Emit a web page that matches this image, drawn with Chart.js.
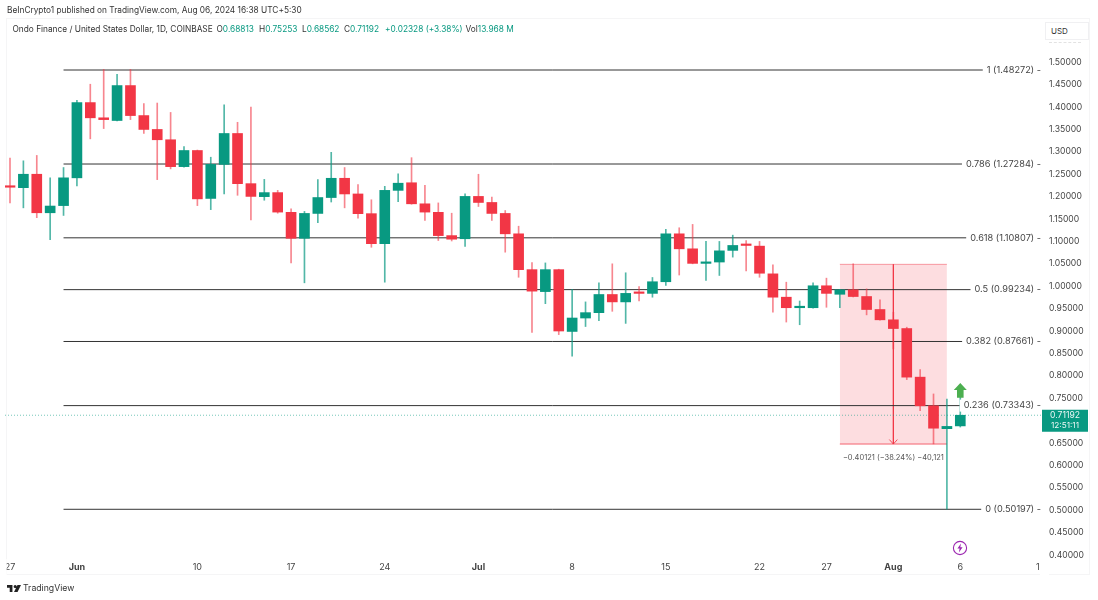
<!DOCTYPE html>
<html><head><meta charset="utf-8">
<script src="https://cdn.jsdelivr.net/npm/chart.js@4"></script>
<style>
html,body{margin:0;padding:0;background:#fff;width:1098px;height:600px;overflow:hidden;font-family:Inter,"Noto Sans",sans-serif;color:#333}
#wrap{position:absolute;left:0;top:0;width:1098px;height:600px}
canvas{position:absolute;left:0;top:0}
.t{position:absolute;white-space:nowrap;line-height:1}
#frame{position:absolute;left:6px;top:18px;width:1084px;height:557px;border:1px solid #f5f5f6;box-sizing:border-box}
#hdr1{left:7px;top:6px;font-size:8.3px;color:#333}
.h2{top:25px;font-size:8.3px;color:#333}
.h2 b{font-weight:400;color:#089981}
#usd{position:absolute;left:1045px;top:22px;width:44px;height:18px;border:1px solid #f0f0f2;box-sizing:border-box;font-size:8px;line-height:16px;padding-left:5px;color:#333;background:#fff}
#dash{position:absolute;left:1049px;top:42px;width:32px;border-top:1px dashed #e2e2e2}
#foot{left:23px;top:584px;font-size:8.7px;color:#333}
</style></head><body>
<div id="wrap">
<div id="frame"></div>
<canvas id="c" width="1098" height="600"></canvas>
<div class="t" id="hdr1">BeInCrypto1 published on TradingView.com, Aug 06, 2024 16:38 UTC+5:30</div>
<div class="t h2" style="left:12.5px">Ondo Finance / United States Dollar, 1D, COINBASE</div>
<div class="t h2" style="left:216.5px">O<b>0.68813</b></div>
<div class="t h2" style="left:259px">H<b>0.75253</b></div>
<div class="t h2" style="left:302px">L<b>0.68562</b></div>
<div class="t h2" style="left:344px">C<b>0.71192</b></div>
<div class="t h2" style="left:385px"><b>+0.02328 (+3.38%)</b></div>
<div class="t h2" style="left:465.5px">Vol<b>13.968 M</b></div>
<div id="usd">USD</div>
<div id="dash"></div>
<svg style="position:absolute;left:7px;top:585px" width="14" height="7" viewBox="0 0 36 18"><path fill="#222" d="M0 0h14v18H7V7H0zM21 0a4 4 0 1 1 0 8a4 4 0 0 1 0-8zM27 0h9l-9 18h-9z"/></svg>
<div class="t" id="foot">TradingView</div>
<svg style="position:absolute;left:952px;top:540px" width="16" height="16" viewBox="0 0 16 16"><circle cx="8" cy="8" r="6.6" fill="#fff" stroke="#9c27b0" stroke-width="1.1"/><path fill="#9c27b0" d="M9 3.6L5.4 8.6h2.2L6.9 12.4L10.6 7.2H8.3z"/></svg>
</div>
<script>
// Daily candles, 27 May to 6 Aug 2024 (index 0 = 27 May)
const open  = [1.222,1.220,1.250,1.164,1.180,1.242,1.410,1.376,1.370,1.448,1.381,1.350,1.327,1.267,1.303,1.196,1.272,1.341,1.229,1.200,1.209,1.165,1.107,1.1625,1.198,1.241,1.206,1.162,1.095,1.214,1.231,1.184,1.165,1.113,1.106,1.2005,1.187,1.1625,1.117,1.037,0.988,1.037,0.899,0.929,0.941,0.9815,0.965,0.986,0.984,1.010,1.117,1.0835,1.051,1.054,1.080,1.0925,1.0895,1.0276,0.9755,0.952,0.952,1.001,0.982,0.992,0.977,0.948,0.925,0.9055,0.797,0.733,0.682,0.68813];
const high  = [1.286,1.280,1.292,1.242,1.265,1.415,1.451,1.484,1.473,1.484,1.408,1.409,1.388,1.312,1.304,1.288,1.405,1.366,1.400,1.2385,1.214,1.173,1.167,1.238,1.299,1.265,1.227,1.193,1.223,1.251,1.287,1.225,1.186,1.163,1.206,1.250,1.199,1.169,1.134,1.053,1.052,1.038,0.993,0.965,1.0075,1.050,1.030,0.999,1.0195,1.127,1.1305,1.138,1.100,1.100,1.114,1.102,1.100,1.048,1.009,0.967,1.0075,1.018,0.993,1.050,0.994,0.9695,0.942,0.9085,0.814,0.7595,0.748,0.75253];
const low   = [1.186,1.175,1.153,1.104,1.158,1.224,1.329,1.352,1.369,1.372,1.341,1.238,1.262,1.266,1.180,1.171,1.206,1.203,1.148,1.192,1.163,1.052,1.0076,1.142,1.188,1.175,1.152,1.087,1.009,1.189,1.183,1.147,1.102,1.101,1.089,1.178,1.147,1.076,1.020,0.897,0.961,0.892,0.844,0.910,0.923,0.944,0.917,0.967,0.9755,1.002,1.025,1.050,1.013,1.024,1.065,1.034,1.020,0.942,0.920,0.914,0.951,0.953,0.952,0.976,0.936,0.924,0.860,0.7915,0.722,0.648,0.50197,0.68562];
const close = [1.221,1.250,1.164,1.179,1.242,1.410,1.376,1.372,1.448,1.381,1.350,1.327,1.267,1.303,1.195,1.272,1.341,1.229,1.2005,1.209,1.1655,1.107,1.1625,1.198,1.241,1.206,1.162,1.095,1.214,1.230,1.184,1.1655,1.113,1.105,1.2005,1.187,1.1625,1.117,1.037,0.989,1.037,0.900,0.929,0.941,0.9815,0.965,0.984,0.984,1.010,1.117,1.0835,1.051,1.054,1.079,1.091,1.091,1.029,0.9755,0.952,0.954,1.001,0.984,0.992,0.977,0.948,0.925,0.9055,0.797,0.733,0.683,0.687,0.71192];

const xTickDays   = [0,5,14,21,28,35,42,49,56,61,66,71,77];
const xTickLabels = ['27','Jun','10','17','24','Jul','8','15','22','27','Aug','6','12'];
const boldLabels  = ['Jun','Jul','Aug'];

const fibRatios = ['1','0.786','0.618','0.5','0.382','0.236','0'];
const fibPrices = [1.48272,1.27284,1.10807,0.99234,0.87661,0.73343,0.50197];
const fibStartDay = 4;

const measureDays  = [62,70];
const measureTop   = 1.04886;
const measureLow   = 0.64765;
const measureArrowDay = 66;
const measureText  = '\u22120.40121 (\u221238.24%) \u221240,121';

const lastPrice = 0.71192;
const lastPriceLabel = '0.71192';
const countdownLabel = '12:51:11';
const arrowDay = 71;
const arrowPrices = [0.751,0.784];

const UP='#089981', DOWN='#f23645';
const UPW='rgba(8,153,129,.7)', DOWNW='rgba(242,54,69,.6)';
const dayMin=-0.3736, dayMax=77.03;
const days=open.map((_,i)=>i);
const isUp=i=>close[i]>=open[i];
const FONT='Inter, "Noto Sans", sans-serif';

const overlay={id:'overlay',
 afterDatasetsDraw(ch){
  const {ctx,scales:{x,y},chartArea:a}=ch;
  ctx.save();
  ctx.font='7.5px '+FONT;ctx.fillStyle='#555';ctx.textAlign='center';ctx.textBaseline='middle';
  ctx.fillText(measureText,x.getPixelForValue(measureArrowDay),y.getPixelForValue(measureLow)+14);
  const ax=x.getPixelForValue(arrowDay),y0=y.getPixelForValue(arrowPrices[0]),y1=y.getPixelForValue(arrowPrices[1]);
  ctx.fillStyle='#4caf50';ctx.beginPath();
  const ym=y1+(y0-y1)*0.48;
  ctx.moveTo(ax,y1);ctx.lineTo(ax+6.5,ym);ctx.lineTo(ax+3.3,ym);ctx.lineTo(ax+3.3,y0);ctx.lineTo(ax-3.3,y0);ctx.lineTo(ax-3.3,ym);ctx.lineTo(ax-6.5,ym);ctx.closePath();ctx.fill();
  ctx.font='9.2px '+FONT;ctx.textAlign='right';
  fibPrices.forEach((p,i)=>{
   const s=fibRatios[i]+' ('+p.toFixed(5)+') -';
   const w=ctx.measureText(s).width, py=y.getPixelForValue(p);
   ctx.fillStyle='#fff';ctx.fillRect(a.right-w-4,py-6,w+4,12);
   ctx.fillStyle='#444';ctx.fillText(s,a.right,py);
  });
  ctx.restore();
 },
 afterDraw(ch){
  const {ctx,scales:{y},chartArea:a}=ch;
  ctx.save();
  ctx.fillStyle='#fff';ctx.fillRect(a.right-1,a.bottom+1,9,16);ctx.fillRect(0,a.bottom+1,6.7,16);
  const py=y.getPixelForValue(lastPrice);
  ctx.fillStyle=UP;ctx.fillRect(1042,py-5.5,46,22);
  ctx.fillStyle='rgba(255,255,255,.92)';ctx.textAlign='center';ctx.textBaseline='middle';
  ctx.font='8.6px '+FONT;ctx.fillText(lastPriceLabel,1065,py);
  ctx.font='8.2px '+FONT;ctx.fillText(countdownLabel,1065,py+10.5);
  ctx.restore();
 }};

const fibSets=fibPrices.map(p=>({type:'line',data:[{x:fibStartDay,y:p},{x:dayMax,y:p}],borderColor:'#333',borderWidth:1,pointRadius:0,order:5}));

new Chart(document.getElementById('c'),{
 data:{datasets:[
  {type:'bar',grouped:false,order:1,barThickness:10,minBarLength:1.5,
   data:days.map(i=>({x:i,y:[open[i],close[i]]})),
   backgroundColor:days.map(i=>isUp(i)?UP:DOWN)},
  {type:'bar',grouped:false,order:2,barThickness:1,
   data:days.map(i=>({x:i,y:[low[i],high[i]]})),
   backgroundColor:days.map(i=>isUp(i)?UPW:DOWNW)},
  ...fibSets,
  {type:'line',order:6,data:[{x:dayMin,y:lastPrice},{x:dayMax,y:lastPrice}],borderColor:'rgba(8,153,129,.55)',borderWidth:1,borderDash:[1,2],pointRadius:0},
  {type:'line',order:7,data:[{x:measureArrowDay,y:measureTop},{x:measureArrowDay,y:measureLow}],borderColor:'rgba(242,54,69,.85)',borderWidth:1,pointRadius:0},
  {type:'line',order:7,data:[{x:measureArrowDay-0.3,y:measureLow+0.01},{x:measureArrowDay,y:measureLow},{x:measureArrowDay+0.3,y:measureLow+0.01}],borderColor:'rgba(242,54,69,.85)',borderWidth:1,pointRadius:0},
  {type:'line',order:8,data:measureDays.map(d=>({x:d,y:measureTop})),borderColor:'rgba(242,54,69,.45)',borderWidth:1,pointRadius:0,fill:'+1',backgroundColor:'rgba(242,54,69,.17)'},
  {type:'line',order:8,data:measureDays.map(d=>({x:d,y:measureLow})),borderColor:'rgba(242,54,69,.75)',borderWidth:1,pointRadius:0}
 ]},
 options:{responsive:false,animation:false,devicePixelRatio:1,
  events:[],
  layout:{padding:{left:5,top:44,right:0,bottom:0}},
  plugins:{legend:{display:false},tooltip:{enabled:false}},
  scales:{
   x:{type:'linear',min:dayMin,max:dayMax,offset:false,
    grid:{display:false,drawTicks:false},border:{display:false},
    afterBuildTicks(s){s.ticks=xTickDays.map(v=>({value:v}));},
    afterFit(s){s.height=42;s.paddingLeft=0;s.paddingRight=0;},
    ticks:{autoSkip:false,maxRotation:0,minRotation:0,padding:4,color:'#444',
     font(c){const l=c.tick&&xTickLabels[xTickDays.indexOf(c.tick.value)];return {family:FONT,size:9,weight:boldLabels.includes(l)?'700':'400'};},
     callback(v){return xTickLabels[xTickDays.indexOf(v)];}}},
   y:{type:'linear',position:'right',min:0.3932,max:1.5408,
    grid:{display:false,drawTicks:false},border:{display:false},
    afterFit(s){s.width=57;},
    ticks:{stepSize:0.05,includeBounds:false,padding:8,color:'#444',font:{family:FONT,size:8.6},
     callback(v){return v.toFixed(5);}}}
  }},
 plugins:[overlay]
});
</script>
</body></html>
